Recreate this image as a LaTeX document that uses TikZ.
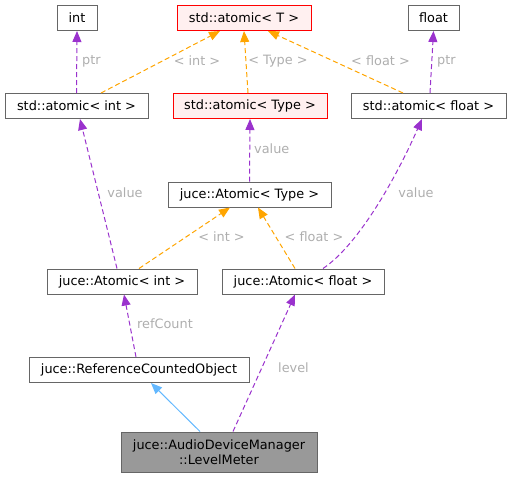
\documentclass[tikz,border=0pt]{standalone}
\usepackage{fontspec}
\setmainfont{DejaVu Sans}
\usetikzlibrary{arrows.meta,calc}
\definecolor{boxborder}{HTML}{666666}
\definecolor{redborder}{HTML}{FF0000}
\definecolor{redfill}{HTML}{FFF0F0}
\definecolor{curfill}{HTML}{999999}
\definecolor{usecol}{HTML}{9A32CD}
\definecolor{tmplcol}{HTML}{FFA500}
\definecolor{inhcol}{HTML}{63B8FF}
\definecolor{lblcol}{HTML}{AEAEAE}
\tikzset{
  cls/.style={draw=boxborder, fill=white, line width=1pt, minimum height=25pt, inner sep=0pt, font=\fontsize{12.85}{15}\selectfont, align=center},
  tmplbox/.style={cls, draw=redborder, fill=redfill},
  curbox/.style={cls, fill=curfill, minimum height=40pt},
  lbl/.style={text=lblcol, inner sep=0pt, font=\fontsize{12.85}{15}\selectfont},
  usage/.style={draw=usecol, line width=1pt, dash pattern=on 5pt off 3pt, -{Triangle[length=11pt,width=9pt,fill=usecol]}},
  tmpl/.style={draw=tmplcol, line width=1pt, dash pattern=on 5pt off 3pt, -{Triangle[length=11pt,width=9pt,fill=tmplcol]}},
  inh/.style={draw=inhcol, line width=1pt, -{Triangle[length=11pt,width=9pt,fill=inhcol]}}
}
\begin{document}
\begin{tikzpicture}[x=1pt,y=-1pt]
\useasboundingbox (0,0) rectangle (511,477);
% nodes
\node[cls, minimum width=40pt] (int) at (77,18) {int};
\node[tmplbox, minimum width=134pt] (stdT) at (244,18) {std::atomic< T >};
\node[cls, minimum width=51pt] (float) at (433.5,18) {float};
\node[cls, minimum width=143pt] (stdInt) at (76.5,106) {std::atomic< int >};
\node[tmplbox, minimum width=154pt] (stdType) at (250,106) {std::atomic< Type >};
\node[cls, minimum width=155pt] (stdFloat) at (428.5,106) {std::atomic< float >};
\node[cls, minimum width=163pt] (jType) at (249.5,194.5) {juce::Atomic< Type >};
\node[cls, minimum width=150pt] (jInt) at (122,281.5) {juce::Atomic< int >};
\node[cls, minimum width=162pt] (jFloat) at (303,281.5) {juce::Atomic< float >};
\node[cls, minimum width=220pt] (rco) at (139,370) {juce::ReferenceCountedObject};
\node[curbox, minimum width=196pt] (lm) at (219,452) {juce::AudioDeviceManager\\::LevelMeter};
% edges
\draw[usage] (stdInt.north) -- (int.south);
\draw[tmpl] ($(stdInt.north)+(24.5,0)$) -- ($(stdT.south)+(-24,0)$);
\draw[tmpl] ($(stdType.north)+(-2,0)$) -- (stdT.south);
\draw[tmpl] ($(stdFloat.north)+(-25.5,0)$) -- ($(stdT.south)+(24,0)$);
\draw[usage] ($(stdFloat.north)+(1.5,0)$) -- (float.south);
\draw[usage] (jType.north) -- (stdType.south);
\draw[usage] ($(jInt.north)+(-5,0)$) -- ($(stdInt.south)+(3.5,0)$);
\draw[tmpl] ($(jInt.north)+(17,0)$) -- ($(jType.south)+(-19.5,0)$);
\draw[tmpl] ($(jFloat.north)+(-8,0)$) -- ($(jType.south)+(8.5,0)$);
\draw[usage] ($(jFloat.north)+(20,0)$) .. controls (358,245) and (395,180) .. ($(stdFloat.south)+(-6.5,0)$);
\draw[usage] ($(rco.north)+(-3,0)$) -- ($(jInt.south)+(2,0)$);
\draw[inh] ($(lm.north)+(-19,0)$) -- ($(rco.south)+(12,0)$);
\draw[usage] ($(lm.north)+(14,0)$) -- ($(jFloat.south)+(-8,0)$);
% labels
\node[lbl, anchor=west] (l1) at (82,61) {ptr};
\node[lbl] (l2) at (197,61) {< int >};
\node[lbl] (l3) at (278,61) {< Type >};
\node[lbl] (l4) at (380.5,61) {< float >};
\node[lbl, anchor=west] (l5) at (437,61) {ptr};
\node[lbl, anchor=west] (l6) at (254,149) {value};
\node[lbl] (l7) at (125,193) {value};
\node[lbl] (l8) at (416,193) {value};
\node[lbl] (l9) at (221.5,237) {< int >};
\node[lbl] (l10) at (314,237) {< float >};
\node[lbl] (l11) at (165,324) {refCount};
\node[lbl] (l12) at (293.5,368) {level};
\end{tikzpicture}
\end{document}
